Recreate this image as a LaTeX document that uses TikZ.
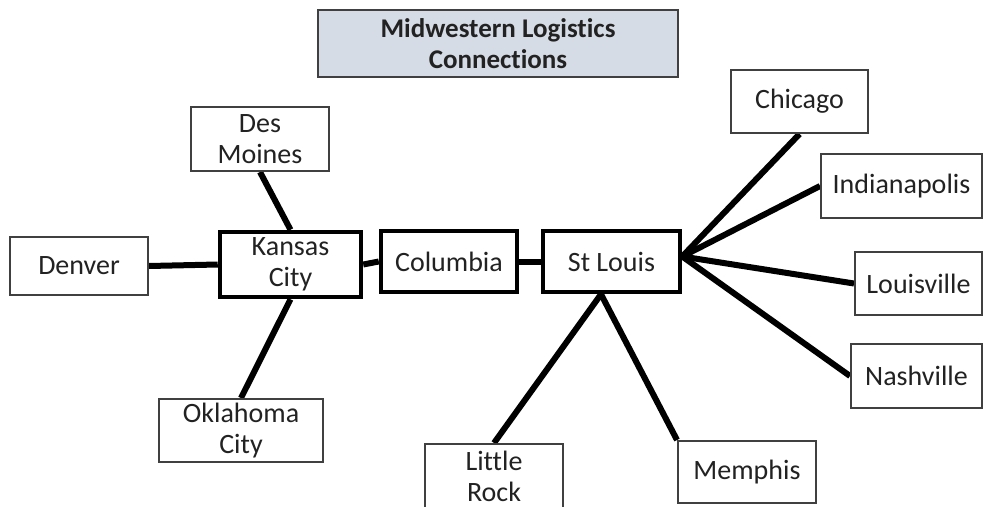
\documentclass[tikz,border=0pt]{standalone}
\usepackage{fontspec}
\setmainfont{Carlito}[Ligatures={NoCommon}]
\usetikzlibrary{backgrounds}
\definecolor{titlefill}{HTML}{D6DCE5}
\definecolor{edgegray}{HTML}{404040}
\definecolor{inkgray}{HTML}{222222}
\begin{document}
\begin{tikzpicture}[x=1pt,y=-1pt,
  every node/.style={font=\fontsize{28}{31}\selectfont, text=inkgray, align=center, inner sep=0pt},
  city/.style={draw=edgegray, line width=2pt, fill=white},
  hubcity/.style={draw=black, line width=4.5pt, fill=white},
  titlebox/.style={draw=edgegray, line width=2pt, fill=titlefill,
    font=\bfseries\fontsize{27}{31}\selectfont},
  link/.style={line width=6pt, draw=black}]
\useasboundingbox (0,0) rectangle (984,506);
\clip (0,0) rectangle (984,506);

% heading
\node[titlebox, minimum width=360pt, minimum height=67pt] (title) at (498,43.5)
  {Midwestern Logistics\\Connections};

% main corridor
\node[hubcity, minimum width=141pt, minimum height=65pt] (kc) at (290.5,264.5) {Kansas\\City};
\node[hubcity, minimum width=136pt, minimum height=61pt] (columbia) at (449,261.5) {Columbia};
\node[hubcity, minimum width=137pt, minimum height=61pt] (stlouis) at (611.5,261.5) {St Louis};

% outlying cities
\node[city, minimum width=138pt, minimum height=64pt] (desmoines) at (260,139) {Des\\Moines};
\node[city, minimum width=138pt, minimum height=58pt] (denver) at (79,266) {Denver};
\node[city, minimum width=164pt, minimum height=63pt] (okc) at (241,430.5) {Oklahoma\\City};
\node[city, minimum width=137pt, minimum height=63pt] (chicago) at (799.5,101.5) {Chicago};
\node[city, minimum width=161pt, minimum height=64pt] (indianapolis) at (901.5,186) {Indianapolis};
\node[city, minimum width=127pt, minimum height=63pt] (louisville) at (918.5,283.5) {Louisville};
\node[city, minimum width=131pt, minimum height=64pt] (nashville) at (916.5,376) {Nashville};
\node[city, minimum width=138pt, minimum height=64pt] (littlerock) at (494,476) {Little\\Rock};
\node[city, minimum width=138pt, minimum height=62pt] (memphis) at (747,472) {Memphis};

% fan-out points on St Louis
\coordinate (eastfan) at ([yshift=5pt]stlouis.east);
\coordinate (southfan) at ([xshift=-10.5pt]stlouis.south);

\begin{scope}[on background layer]
  \fill[white] (0,0) rectangle (984,506);
  \draw[link] (denver.east) -- (kc.west);
  \draw[link] (desmoines.south) -- (kc.north);
  \draw[link] (kc.south) -- (okc.north);
  \draw[link] (kc.east) -- (columbia.west);
  \draw[link] (columbia.east) -- (stlouis.west);
  \draw[link] (eastfan) -- (chicago.south);
  \draw[link] (eastfan) -- (indianapolis.west);
  \draw[link] (eastfan) -- (louisville.west);
  \draw[link] (eastfan) -- (nashville.west);
  \draw[link] (southfan) -- (littlerock.north);
  \draw[link] (southfan) -- (memphis.north west);
\end{scope}
\end{tikzpicture}
\end{document}
